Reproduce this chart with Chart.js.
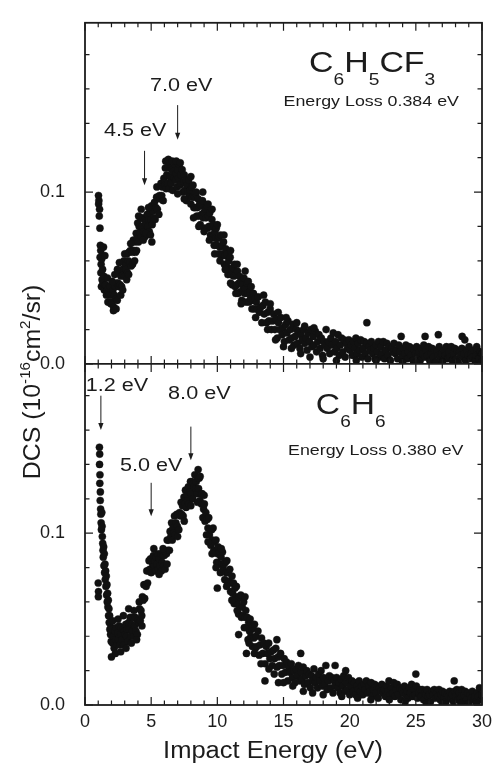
<!DOCTYPE html>
<html>
<head>
<meta charset="utf-8">
<script src="https://cdn.jsdelivr.net/npm/chart.js@4.4.1/dist/chart.umd.min.js"></script>
<style>
  html, body { margin: 0; padding: 0; background: #fff; }
  #wrap { position: relative; width: 493px; height: 764px; }
</style>
</head>
<body>
<div id="wrap"><canvas id="dcsChart" width="493" height="764"></canvas></div>
<script>
// [impact energy (eV), DCS (10^-16 cm^2/sr)]
const tolPoints = [
  [1.02,.098],[1.05,.095],[1.03,.093],[1.08,.086],[1.10,.090],[1.13,.079],[1.16,.069],[1.14,.062],[1.19,.066],
  [1.22,.058],[1.20,.053],[1.26,.061],[1.29,.049],[1.24,.045],[1.33,.055],[1.36,.047],[1.40,.068],[1.43,.051],
  [1.46,.043],[1.50,.063],[1.53,.046],[1.56,.046],[1.62,.040],[1.67,.043],[1.73,.036],[1.78,.044],[1.84,.040],
  [1.89,.045],[1.95,.035],[2.00,.040],[2.06,.036],[2.11,.043],[2.17,.033],[2.22,.040],[2.28,.045],[2.33,.038],
  [2.39,.047],[2.44,.037],[2.50,.047],[2.55,.045],[2.61,.053],[2.66,.046],[2.72,.051],[2.77,.045],[2.83,.055],
  [2.88,.052],[2.94,.060],[2.99,.051],[3.05,.058],[3.10,.055],[3.16,.064],[3.21,.053],[3.27,.060],[3.32,.065],
  [3.38,.059],[3.43,.066],[3.49,.057],[3.54,.066],[3.60,.065],[3.65,.072],[3.71,.066],[3.76,.071],[3.82,.065],
  [3.87,.076],[3.93,.073],[3.98,.082],[4.04,.071],[4.09,.080],[4.15,.076],[4.20,.085],[4.26,.074],[4.31,.080],
  [4.37,.085],[4.42,.077],[4.48,.084],[4.53,.074],[4.59,.083],[4.64,.081],[4.70,.087],[4.75,.080],[4.81,.084],
  [4.86,.077],[4.92,.088],[4.97,.084],[5.03,.092],[5.05,.071],[5.08,.081],[5.14,.089],[5.19,.085],[5.25,.094],
  [5.30,.084],[5.36,.091],[5.41,.097],[5.43,.103],[5.47,.090],[5.52,.097],[5.58,.087],[5.63,.098],[5.69,.096],
  [5.74,.105],[5.80,.098],[5.85,.103],[5.91,.095],[5.96,.108],[6.02,.104],[6.07,.114],[6.10,.118],[6.13,.102],
  [6.18,.110],[6.24,.105],[6.29,.115],[6.35,.102],[6.40,.109],[6.46,.114],[6.51,.105],[6.57,.113],[6.62,.101],
  [6.68,.112],[6.73,.108],[6.79,.116],[6.84,.107],[6.90,.111],[6.95,.103],[7.01,.113],[7.06,.108],[7.12,.116],
  [7.17,.104],[7.23,.110],[7.28,.105],[7.34,.113],[7.39,.100],[7.45,.106],[7.50,.110],[7.56,.101],[7.61,.107],
  [7.67,.095],[7.72,.104],[7.78,.100],[7.83,.107],[7.89,.098],[7.94,.101],[8.00,.093],[8.05,.103],[8.11,.097],
  [8.16,.104],[8.22,.091],[8.27,.097],[8.33,.091],[8.38,.099],[8.44,.086],[8.49,.091],[8.55,.096],[8.60,.086],
  [8.66,.093],[8.71,.081],[8.77,.092],[8.82,.087],[8.88,.095],[8.93,.085],[8.99,.088],[9.04,.079],[9.10,.090],
  [9.15,.085],[9.21,.092],[9.26,.079],[9.32,.086],[9.37,.080],[9.43,.088],[9.48,.075],[9.54,.080],[9.59,.084],
  [9.65,.074],[9.70,.081],[9.76,.069],[9.81,.077],[9.87,.073],[9.92,.079],[9.98,.069],[10.03,.073],[10.09,.064],
  [10.14,.074],[10.20,.068],[10.25,.075],[10.31,.063],[10.36,.069],[10.42,.064],[10.47,.071],[10.53,.058],
  [10.58,.063],[10.64,.067],[10.69,.057],[10.75,.064],[10.80,.052],[10.86,.060],[10.91,.055],[10.97,.062],
  [11.02,.052],[11.08,.055],[11.13,.046],[11.19,.056],[11.24,.051],[11.30,.058],[11.35,.045],[11.41,.052],
  [11.46,.046],[11.52,.054],[11.57,.041],[11.63,.047],[11.68,.051],[11.74,.042],[11.79,.048],[11.85,.037],
  [11.90,.046],[11.96,.043],[12.01,.050],[12.07,.041],[12.10,.054],[12.12,.044],[12.18,.036],[12.23,.047],
  [12.29,.041],[12.34,.048],[12.40,.036],[12.45,.042],[12.51,.038],[12.56,.045],[12.62,.032],[12.67,.037],
  [12.73,.041],[12.78,.032],[12.84,.038],[12.89,.027],[12.95,.036],[13.00,.032],[13.09,.039],[13.18,.030],
  [13.27,.033],[13.36,.024],[13.45,.034],[13.54,.029],[13.63,.036],[13.72,.024],[13.81,.030],[13.90,.025],
  [13.99,.032],[14.08,.020],[14.17,.025],[14.26,.029],[14.35,.020],[14.44,.026],[14.53,.015],[14.62,.024],
  [14.71,.020],[14.80,.027],[14.89,.017],[14.98,.021],[15.07,.013],[15.16,.023],[15.25,.018],[15.34,.025],
  [15.43,.014],[15.52,.020],[15.61,.015],[15.70,.023],[15.79,.011],[15.88,.016],[15.97,.020],[16.06,.012],
  [16.15,.019],[16.24,.009],[16.33,.017],[16.42,.014],[16.51,.020],[16.60,.012],[16.69,.015],[16.78,.008],
  [16.87,.018],[16.96,.013],[17.05,.020],[17.14,.010],[17.23,.016],[17.32,.011],[17.41,.019],[17.50,.007],
  [17.59,.013],[17.68,.017],[17.77,.009],[17.86,.015],[17.95,.005],[18.04,.013],[18.13,.011],[18.22,.020],
  [18.31,.009],[18.40,.013],[18.49,.006],[18.58,.015],[18.67,.011],[18.76,.018],[18.85,.007],[18.94,.013],
  [19.03,.009],[19.12,.017],[19.21,.005],[19.30,.011],[19.39,.015],[19.48,.007],[19.57,.014],[19.66,.004],
  [19.75,.012],[19.84,.009],[19.93,.014],[20.02,.008],[20.11,.011],[20.20,.005],[20.29,.013],[20.38,.009],
  [20.47,.015],[20.56,.006],[20.65,.012],[20.74,.008],[20.83,.014],[20.92,.004],[21.01,.009],[21.10,.013],
  [21.19,.006],[21.28,.012],[21.30,.024],[21.37,.003],[21.46,.010],[21.55,.008],[21.64,.013],[21.73,.006],
  [21.82,.009],[21.91,.003],[22.00,.011],[22.09,.007],[22.18,.013],[22.27,.004],[22.36,.010],[22.45,.006],
  [22.54,.013],[22.63,.003],[22.72,.008],[22.81,.012],[22.90,.005],[22.99,.010],[23.08,.002],[23.17,.009],
  [23.26,.007],[23.35,.012],[23.44,.006],[23.53,.008],[23.62,.003],[23.71,.011],[23.80,.007],[23.89,.016],
  [23.98,.004],[24.07,.009],[24.16,.006],[24.25,.011],[24.34,.003],[24.43,.007],[24.52,.010],[24.61,.005],
  [24.70,.009],[24.79,.002],[24.88,.008],[24.97,.006],[25.06,.010],[25.15,.005],[25.24,.007],[25.33,.002],
  [25.42,.009],[25.51,.006],[25.60,.011],[25.69,.004],[25.70,.016],[25.78,.008],[25.87,.005],[25.96,.010],
  [26.05,.002],[26.14,.006],[26.23,.009],[26.32,.004],[26.41,.008],[26.50,.001],[26.59,.007],[26.68,.005],
  [26.70,.017],[26.77,.010],[26.86,.004],[26.95,.006],[27.04,.002],[27.13,.008],[27.22,.005],[27.31,.010],
  [27.40,.003],[27.49,.007],[27.58,.004],[27.67,.010],[27.76,.002],[27.85,.006],[27.94,.009],[28.03,.003],
  [28.12,.008],[28.21,.001],[28.30,.007],[28.39,.005],[28.48,.009],[28.50,.016],[28.57,.004],[28.66,.006],
  [28.70,.014],[28.75,.002],[28.84,.008],[28.93,.005],[29.02,.010],[29.11,.003],[29.20,.006],[29.29,.004],
  [29.38,.008],[29.47,.002],[29.56,.005],[29.60,.010],[29.65,.008],[29.74,.003],[29.83,.007],[29.92,.001],
  [29.98,.006],
  // second pass over the cloud edges
  [1.70,.050],[2.05,.048],[2.15,.031],[2.25,.052],[2.35,.032],[2.45,.055],[2.60,.059],[2.70,.040],[2.85,.043],
  [3.00,.064],[3.15,.049],[3.30,.052],[3.45,.070],[3.60,.058],[3.75,.060],[3.90,.066],[4.05,.086],[4.25,.090],
  [4.40,.072],[4.60,.076],[4.80,.091],[4.95,.075],[6.30,.119],[6.60,.118],[6.90,.118],[7.20,.117],[7.00,.099],
  [7.50,.096],[8.00,.109],[8.40,.100],[8.90,.100],[9.30,.093],[9.60,.090],[8.20,.085],[8.60,.080],[9.00,.077],
  [9.40,.072],[9.80,.064],[10.20,.060],[10.60,.055],[11.00,.047],[11.40,.041],[11.80,.035],[10.00,.081],
  [10.50,.075],[11.00,.066],[11.50,.058],[13.50,.040],[14.00,.035],[14.60,.030],[15.20,.027],[16.00,.024],
  [16.60,.022],[17.30,.021],[13.80,.020],[14.40,.014],[15.00,.010],[15.60,.009],[16.30,.006],[17.00,.004],
  [18.00,.003],[19.00,.002],[20.50,.002],[22.00,.002],[24.00,.001],[25.00,.001],[27.00,.001]
];

const benzPoints = [
  [1.00,.071],[1.02,.066],[1.01,.063],[1.09,.150],[1.11,.146],[1.10,.140],[1.13,.134],[1.12,.129],[1.16,.124],
  [1.15,.119],[1.18,.114],[1.20,.111],[1.22,.106],[1.24,.102],[1.27,.112],[1.29,.104],[1.31,.098],[1.34,.094],
  [1.36,.090],[1.38,.086],[1.41,.092],[1.43,.081],[1.46,.088],[1.48,.077],[1.51,.082],[1.53,.073],[1.56,.078],
  [1.58,.069],[1.61,.075],[1.63,.064],[1.66,.070],[1.68,.060],[1.71,.065],[1.73,.057],[1.76,.061],[1.78,.052],
  [1.81,.056],[1.83,.048],[1.86,.052],[1.88,.044],[1.91,.048],[1.93,.041],[1.96,.045],[1.98,.037],[2.00,.028],
  [2.03,.044],[2.09,.036],[2.14,.040],[2.20,.033],[2.25,.043],[2.31,.038],[2.36,.045],[2.42,.035],[2.47,.042],
  [2.53,.038],[2.58,.046],[2.64,.035],[2.69,.041],[2.75,.045],[2.80,.038],[2.86,.044],[2.91,.035],[2.97,.043],
  [3.02,.041],[3.08,.047],[3.13,.040],[3.19,.044],[3.24,.037],[3.30,.048],[3.35,.044],[3.41,.051],[3.46,.040],
  [3.52,.047],[3.57,.043],[3.63,.051],[3.68,.040],[3.74,.046],[3.79,.051],[3.85,.043],[3.90,.050],[3.96,.041],
  [4.01,.049],[4.07,.048],[4.12,.056],[4.18,.049],[4.23,.055],[4.29,.052],[4.34,.063],[4.40,.061],[4.45,.070],
  [4.51,.062],[4.56,.070],[4.62,.069],[4.67,.078],[4.73,.071],[4.78,.078],[4.84,.084],[4.89,.079],[4.95,.085],
  [5.00,.077],[5.06,.084],[5.11,.082],[5.17,.087],[5.22,.081],[5.28,.084],[5.33,.078],[5.39,.086],[5.44,.082],
  [5.50,.088],[5.55,.079],[5.61,.085],[5.66,.081],[5.72,.088],[5.77,.078],[5.83,.083],[5.88,.087],[5.94,.081],
  [5.99,.087],[6.05,.079],[6.10,.089],[6.16,.088],[6.21,.096],[6.27,.090],[6.32,.096],[6.38,.090],[6.43,.101],
  [6.49,.098],[6.54,.106],[6.60,.096],[6.65,.103],[6.71,.100],[6.76,.110],[6.82,.099],[6.87,.106],[6.93,.111],
  [6.98,.104],[7.04,.111],[7.09,.102],[7.15,.112],[7.20,.110],[7.26,.118],[7.31,.111],[7.37,.116],[7.42,.110],
  [7.48,.121],[7.53,.117],[7.59,.125],[7.64,.115],[7.70,.122],[7.75,.119],[7.81,.127],[7.86,.117],[7.92,.124],
  [7.97,.130],[8.03,.123],[8.08,.130],[8.14,.120],[8.19,.129],[8.25,.127],[8.30,.134],[8.36,.126],[8.41,.130],
  [8.47,.123],[8.52,.132],[8.55,.137],[8.58,.126],[8.63,.132],[8.69,.119],[8.74,.123],[8.80,.117],[8.85,.123],
  [8.91,.109],[8.96,.114],[9.02,.117],[9.07,.107],[9.13,.112],[9.18,.099],[9.24,.108],[9.29,.103],[9.35,.109],
  [9.40,.099],[9.46,.102],[9.51,.093],[9.57,.102],[9.62,.096],[9.68,.103],[9.73,.090],[9.79,.095],[9.84,.089],
  [9.90,.096],[9.95,.083],[10.00,.068],[10.01,.088],[10.06,.092],[10.12,.082],[10.17,.089],[10.23,.077],
  [10.28,.086],[10.34,.082],[10.39,.089],[10.45,.079],[10.50,.082],[10.56,.073],[10.61,.083],[10.67,.077],
  [10.72,.084],[10.78,.071],[10.83,.077],[10.89,.072],[10.94,.079],[11.00,.066],[11.05,.071],[11.11,.075],
  [11.16,.065],[11.22,.071],[11.27,.059],[11.33,.068],[11.38,.063],[11.44,.069],[11.49,.059],[11.55,.062],
  [11.60,.053],[11.61,.041],[11.66,.063],[11.71,.057],[11.77,.064],[11.82,.051],[11.88,.057],[11.93,.052],
  [11.99,.060],[12.04,.045],[12.09,.063],[12.10,.051],[12.15,.055],[12.20,.030],[12.21,.045],[12.26,.051],
  [12.32,.038],[12.37,.048],[12.43,.043],[12.48,.050],[12.54,.040],[12.59,.044],[12.65,.034],[12.70,.045],
  [12.76,.039],[12.81,.047],[12.87,.033],[12.92,.040],[12.98,.034],[13.07,.043],[13.16,.029],[13.25,.035],
  [13.34,.039],[13.43,.030],[13.52,.036],[13.60,.014],[13.61,.024],[13.70,.034],[13.79,.030],[13.88,.036],
  [13.97,.027],[14.06,.031],[14.15,.023],[14.24,.032],[14.33,.027],[14.42,.033],[14.50,.038],[14.51,.022],
  [14.60,.028],[14.62,.013],[14.69,.023],[14.78,.030],[14.87,.018],[14.96,.023],[15.05,.027],[15.14,.019],
  [15.23,.025],[15.32,.014],[15.41,.022],[15.50,.019],[15.59,.024],[15.68,.016],[15.77,.020],[15.86,.013],
  [15.95,.021],[16.04,.017],[16.13,.023],[16.22,.014],[16.30,.030],[16.31,.019],[16.40,.015],[16.49,.022],
  [16.58,.012],[16.67,.017],[16.76,.020],[16.85,.013],[16.94,.018],[17.03,.010],[17.12,.017],[17.21,.014],
  [17.30,.021],[17.39,.013],[17.48,.016],[17.57,.010],[17.66,.018],[17.75,.014],[17.84,.020],[17.93,.011],
  [18.02,.016],[18.11,.012],[18.20,.023],[18.29,.009],[18.38,.014],[18.47,.017],[18.56,.010],[18.65,.016],
  [18.74,.007],[18.83,.014],[18.90,.023],[18.92,.011],[19.01,.016],[19.10,.010],[19.19,.013],[19.28,.007],
  [19.37,.015],[19.46,.011],[19.55,.017],[19.64,.008],[19.70,.020],[19.73,.013],[19.82,.009],[19.91,.016],
  [20.00,.006],[20.09,.011],[20.18,.014],[20.27,.008],[20.36,.013],[20.45,.006],[20.54,.011],[20.63,.009],
  [20.72,.014],[20.81,.008],[20.90,.011],[20.99,.006],[21.08,.012],[21.17,.009],[21.26,.014],[21.35,.007],
  [21.44,.011],[21.53,.008],[21.62,.013],[21.71,.005],[21.80,.009],[21.89,.012],[21.98,.007],[22.07,.011],
  [22.16,.004],[22.25,.010],[22.34,.008],[22.43,.012],[22.52,.007],[22.61,.009],[22.70,.005],[22.79,.011],
  [22.88,.008],[22.97,.014],[23.06,.006],[23.15,.010],[23.24,.007],[23.33,.013],[23.42,.005],[23.51,.009],
  [23.60,.012],[23.69,.006],[23.78,.010],[23.87,.003],[23.96,.009],[24.05,.007],[24.14,.011],[24.23,.006],
  [24.32,.008],[24.41,.004],[24.50,.010],[24.59,.007],[24.68,.012],[24.77,.005],[24.86,.009],[24.95,.006],
  [25.00,.018],[25.04,.011],[25.13,.004],[25.22,.007],[25.31,.009],[25.40,.005],[25.49,.009],[25.58,.003],
  [25.67,.007],[25.76,.006],[25.85,.009],[25.94,.005],[26.03,.006],[26.12,.002],[26.21,.008],[26.30,.006],
  [26.39,.009],[26.48,.004],[26.57,.007],[26.66,.005],[26.75,.009],[26.84,.003],[26.93,.006],[27.02,.008],
  [27.11,.004],[27.20,.007],[27.29,.002],[27.38,.006],[27.47,.005],[27.56,.008],[27.65,.004],[27.74,.006],
  [27.83,.002],[27.90,.014],[27.92,.008],[28.01,.005],[28.10,.009],[28.19,.003],[28.28,.007],[28.37,.004],
  [28.46,.009],[28.55,.002],[28.64,.006],[28.73,.008],[28.82,.003],[28.91,.007],[29.00,.001],[29.09,.006],
  [29.18,.004],[29.27,.008],[29.36,.003],[29.45,.005],[29.54,.002],[29.63,.007],[29.72,.005],[29.81,.010],
  [29.90,.003],[29.97,.006],
  // second pass over the cloud edges
  [2.10,.049],[2.30,.030],[2.50,.050],[2.70,.031],[2.90,.052],[3.10,.033],[3.30,.056],[3.50,.036],[3.70,.055],
  [3.90,.038],[4.10,.060],[4.30,.046],[5.20,.091],[5.60,.076],[5.90,.091],[6.20,.082],[7.00,.098],[7.50,.107],
  [8.00,.116],[8.50,.118],[8.70,.133],[9.00,.122],[9.30,.095],[9.60,.088],[9.90,.080],[10.30,.091],[10.70,.069],
  [11.10,.061],[11.50,.055],[12.40,.036],[12.80,.030],[13.30,.024],[13.90,.021],[14.30,.018],[15.00,.013],
  [15.70,.011],[16.50,.008],[17.20,.007],[18.00,.006],[19.40,.005],[20.60,.004],[21.60,.003],[23.00,.003],
  [24.20,.002],[25.80,.001],[27.00,.001],[28.40,.001],[29.60,.001]
];

const tolPeaks = [4.5, 7.0];
const benzPeaks = [1.2, 5.0, 8.0];
const tolLoss = '0.384';
const benzLoss = '0.380';

const FONT = "'Liberation Sans', Arial, Helvetica, sans-serif";
const INK = '#1c1c1c';
const Y_MAX = 0.1985;

// where each arrow / label sits, in data units of its panel
const noteLayout = {
  yTop: {
    4.5: { tail: 0.124, tip: 0.104, lx: 3.79, ly: 0.1328 },
    7.0: { tail: 0.1506, tip: 0.1305, lx: 7.27, ly: 0.1586 }
  },
  yBot: {
    1.2: { tail: 0.180, tip: 0.160, lx: 2.42, ly: 0.1828 },
    5.0: { tail: 0.1293, tip: 0.1098, lx: 5.0, ly: 0.136 },
    8.0: { tail: 0.162, tip: 0.1425, lx: 8.64, ly: 0.178 }
  }
};

function toXY(points) {
  return points.map(p => ({ x: p[0], y: p[1] }));
}

// draws a run of text pieces (with sub/superscripts) centred on cx, stretched sideways
function drawRich(ctx, parts, cx, base, stretch) {
  let w = 0;
  parts.forEach(p => { ctx.font = p.s + 'px ' + FONT; w += ctx.measureText(p.t).width; });
  ctx.save();
  ctx.translate(cx, base);
  ctx.scale(stretch, 1);
  ctx.textAlign = 'left';
  ctx.textBaseline = 'alphabetic';
  let x = -w / 2;
  parts.forEach(p => {
    ctx.font = p.s + 'px ' + FONT;
    ctx.fillText(p.t, x, p.dy || 0);
    x += ctx.measureText(p.t).width;
  });
  ctx.restore();
}

const decorPlugin = {
  id: 'decor',
  afterDatasetsDraw(chart) {
    const { ctx, chartArea: a, scales } = chart;
    const xs = scales.x;
    ctx.save();
    ctx.strokeStyle = INK;
    ctx.fillStyle = INK;

    // inward ticks on all four sides of both panels
    ctx.lineWidth = 1.2;
    ctx.beginPath();
    ['yTop', 'yBot'].forEach(id => {
      const ys = scales[id];
      for (let v = 0; v <= 30; v++) {
        const px = xs.getPixelForValue(v);
        const len = v % 5 === 0 ? 8 : 4.5;
        ctx.moveTo(px, ys.bottom); ctx.lineTo(px, ys.bottom - len);
        ctx.moveTo(px, ys.top); ctx.lineTo(px, ys.top + len);
      }
      for (let i = 0; i * 0.02 <= Y_MAX; i++) {
        const py = ys.getPixelForValue(i * 0.02);
        const len = i % 5 === 0 ? 8 : 4.5;
        ctx.moveTo(a.left, py); ctx.lineTo(a.left + len, py);
        ctx.moveTo(a.right, py); ctx.lineTo(a.right - len, py);
      }
    });
    ctx.stroke();

    ctx.lineWidth = 1.8;
    ctx.strokeRect(a.left, a.top, a.right - a.left, a.bottom - a.top);
    ctx.beginPath();
    ctx.moveTo(a.left, scales.yTop.bottom);
    ctx.lineTo(a.right, scales.yTop.bottom);
    ctx.stroke();

    // peak arrows + labels
    const peaks = { yTop: tolPeaks, yBot: benzPeaks };
    ctx.lineWidth = 1;
    Object.keys(peaks).forEach(id => {
      const ys = scales[id];
      peaks[id].forEach(e => {
        const n = noteLayout[id][e];
        const px = xs.getPixelForValue(e);
        const y0 = ys.getPixelForValue(n.tail);
        const y1 = ys.getPixelForValue(n.tip);
        ctx.beginPath();
        ctx.moveTo(px, y0); ctx.lineTo(px, y1 - 5);
        ctx.stroke();
        ctx.beginPath();
        ctx.moveTo(px, y1); ctx.lineTo(px - 2.6, y1 - 7); ctx.lineTo(px + 2.6, y1 - 7);
        ctx.closePath();
        ctx.fill();
        drawRich(ctx, [{ t: e.toFixed(1) + ' eV', s: 18 }],
          xs.getPixelForValue(n.lx), ys.getPixelForValue(n.ly), 1.2);
      });
    });

    // molecule names and energy loss notes
    const yt = scales.yTop, yb = scales.yBot;
    drawRich(ctx, [
      { t: 'C', s: 30 }, { t: '6', s: 17, dy: 13.4 }, { t: 'H', s: 30 }, { t: '5', s: 17, dy: 13.4 },
      { t: 'CF', s: 30 }, { t: '3', s: 17, dy: 13.4 }
    ], xs.getPixelForValue(21.7), yt.getPixelForValue(0.170), 1.13);
    drawRich(ctx, [{ t: 'Energy Loss ' + tolLoss + ' eV', s: 15.5 }],
      xs.getPixelForValue(21.63), yt.getPixelForValue(0.150), 1.15);
    drawRich(ctx, [
      { t: 'C', s: 30 }, { t: '6', s: 17, dy: 13.4 }, { t: 'H', s: 30 }, { t: '6', s: 17, dy: 13.4 }
    ], xs.getPixelForValue(20.08), yb.getPixelForValue(0.1695), 1.12);
    drawRich(ctx, [{ t: 'Energy Loss ' + benzLoss + ' eV', s: 15.5 }],
      xs.getPixelForValue(21.97), yb.getPixelForValue(0.1454), 1.15);

    // axis titles
    drawRich(ctx, [{ t: 'Impact Energy (eV)', s: 23 }], (a.left + a.right) / 2 - 10.5, 758, 1.11);
    ctx.save();
    ctx.translate(40, (a.top + a.bottom) / 2 + 18);
    ctx.rotate(-Math.PI / 2);
    drawRich(ctx, [
      { t: 'DCS (10', s: 23 }, { t: '-16', s: 14, dy: -10 }, { t: 'cm', s: 23 },
      { t: '2', s: 14, dy: -10 }, { t: '/sr)', s: 23 }
    ], 0, 0, 1.08);
    ctx.restore();

    ctx.restore();
  }
};

const tickFont = { family: FONT, size: 18 };
function yAxis() {
  return {
    type: 'linear', position: 'left', stack: 'panels', stackWeight: 1,
    min: 0, max: Y_MAX,
    grid: { display: false }, border: { display: false },
    ticks: { stepSize: 0.1, includeBounds: false, color: INK, font: tickFont, padding: 12,
      callback: v => v.toFixed(1) },
    afterFit: s => { s.width = 85; }
  };
}

const dotStyle = { pointRadius: 3.6, pointBackgroundColor: '#111', pointBorderColor: '#111',
  pointBorderWidth: 0.4, showLine: false };

new Chart(document.getElementById('dcsChart'), {
  type: 'scatter',
  data: {
    datasets: [
      { label: 'C6H6', data: toXY(benzPoints), yAxisID: 'yBot', ...dotStyle },
      { label: 'C6H5CF3', data: toXY(tolPoints), yAxisID: 'yTop', ...dotStyle }
    ]
  },
  options: {
    responsive: false, animation: false, events: [],
    layout: { padding: { top: 14, right: 11, left: 0, bottom: 0 } },
    plugins: { legend: { display: false }, tooltip: { enabled: false } },
    scales: {
      x: {
        type: 'linear', min: 0, max: 30,
        grid: { display: false }, border: { display: false },
        ticks: { stepSize: 5, color: INK, font: tickFont, padding: -2, maxRotation: 0,
          callback: v => String(v) },
        afterFit: s => { s.height = 59; }
      },
      yBot: yAxis(),
      yTop: yAxis()
    }
  },
  plugins: [decorPlugin]
});
</script>
</body>
</html>
